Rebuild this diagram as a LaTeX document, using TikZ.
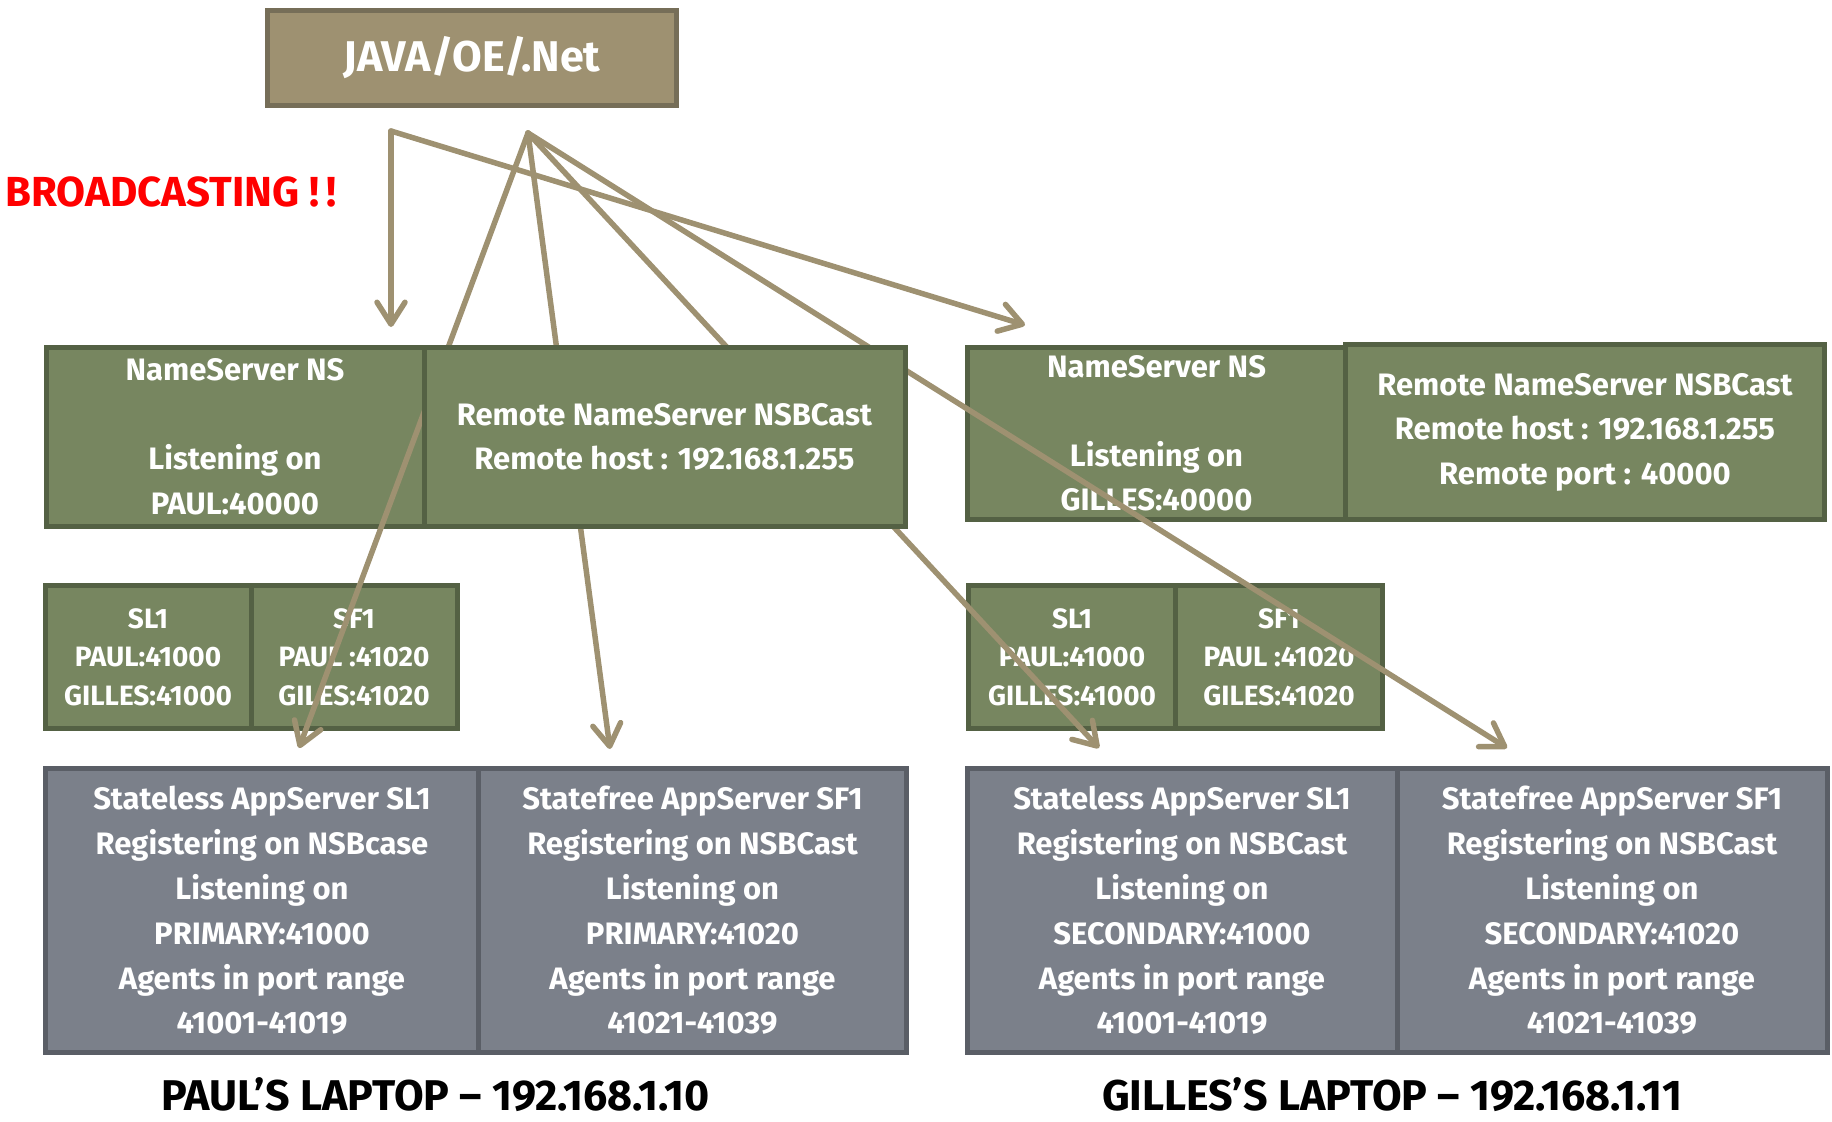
\documentclass[tikz,border=0pt]{standalone}
\usepackage{fontspec}
\setmainfont{Fira Sans}
\usepackage{tikz}
\usetikzlibrary{arrows.meta, positioning}

\definecolor{tan}{HTML}{9E9171}
\definecolor{tanline}{HTML}{766E58}
\definecolor{moss}{HTML}{778660}
\definecolor{mossline}{HTML}{546144}
\definecolor{slate}{HTML}{7B808A}
\definecolor{slateline}{HTML}{5A5E66}

\tikzstyle{client} = [rectangle, draw=tanline, fill=tan, line width=5pt, minimum width=409pt, minimum height=95pt, text=white, font=\bfseries\fontsize{43}{50}\selectfont]
\tikzstyle{nscell} = [rectangle, draw=mossline, fill=moss, line width=5pt, minimum height=179pt, text=white, align=center, font=\bfseries\fontsize{31}{44.5}\selectfont]
\tikzstyle{portcell} = [rectangle, draw=mossline, fill=moss, line width=5pt, minimum width=206pt, minimum height=143pt, text=white, align=center, font=\bfseries\fontsize{28}{38.5}\selectfont]
\tikzstyle{appcell} = [rectangle, draw=slateline, fill=slate, line width=5pt, minimum width=430pt, minimum height=284pt, text=white, align=center, font=\bfseries\fontsize{31}{44.8}\selectfont]
\tikzstyle{laptop} = [anchor=base, inner sep=0pt, font=\bfseries\fontsize{43}{50}\selectfont]
\tikzstyle{arrow} = [line width=5.5pt, draw=tan, line cap=round, -{Straight Barb[round, length=22pt, width=28pt]}]

\begin{document}
\begin{tikzpicture}[x=1pt, y=-1pt]
    \useasboundingbox (0,0) rectangle (1832,1122);

    % Client
    \node[client] (java) at (472,58) {JAVA/OE/.Net};
    \node[text=red, font=\bfseries\fontsize{42}{50}\selectfont] (bcast) at (171,192) {BROADCASTING {!}\,{!}};

    % Paul's laptop
    \node[nscell, minimum width=378pt] (paulns) at (235,437) {NameServer NS\\[44.5pt]Listening on\\PAUL:40000};
    \node[portcell] (paulsl) at (148,657) {SL1\\PAUL:41000\\GILLES:41000};
    \node[portcell, right=-5pt of paulsl] (paulsf) {SF1\\PAUL :41020\\GILES:41020};
    \node[appcell, minimum width=433pt] (paulapl) at (262,910.5) {Stateless AppServer SL1\\Registering on NSBcase\\Listening on\\PRIMARY:41000\\Agents in port range\\41001-41019};
    \node[appcell, minimum width=428pt, right=-5pt of paulapl] (paulapf) {Statefree AppServer SF1\\Registering on NSBCast\\Listening on\\PRIMARY:41020\\Agents in port range\\41021-41039};
    \node[laptop] (paullaptop) at (435.5,1110) {PAUL’S LAPTOP -- 192.168.1.10};

    % Gilles's laptop
    \node[nscell, minimum width=378pt, minimum height=172pt] (gillesns) at (1156.5,433.5) {NameServer NS\\[44.5pt]Listening on\\GILLES:40000};
    \node[nscell, minimum width=479pt, minimum height=175pt, anchor=south west] (gillesremote) at ([xshift=-5pt]gillesns.south east) {Remote NameServer NSBCast\\Remote host : 192.168.1.255\\Remote port : 40000};
    \node[portcell, minimum width=207pt] (gillessl) at (1072,657) {SL1\\PAUL:41000\\GILLES:41000};
    \node[portcell, minimum width=207pt, right=-5pt of gillessl] (gillessf) {SF1\\PAUL :41020\\GILES:41020};
    \node[appcell] (gillesapl) at (1182,910.5) {Stateless AppServer SL1\\Registering on NSBCast\\Listening on\\SECONDARY:41000\\Agents in port range\\41001-41019};
    \node[appcell, right=-5pt of gillesapl] (gillesapf) {Statefree AppServer SF1\\Registering on NSBCast\\Listening on\\SECONDARY:41020\\Agents in port range\\41021-41039};
    \node[laptop] (gilleslaptop) at (1392,1110) {GILLES’S LAPTOP -- 192.168.1.11};

    % Broadcast fan
    \coordinate (fanA) at (391,131);
    \coordinate (fanB) at (528,133);
    \coordinate (tipns) at (391,327);
    \coordinate (tipgns) at (1025,325);
    \coordinate (tippsl) at (299,748);
    \coordinate (tippsf) at (610,749);
    \coordinate (tipgsl) at (1099,748);
    \coordinate (tipgsf) at (1507,748);

    \draw[arrow] (fanA) -- (tipns);
    \draw[arrow] (fanA) -- (tipgns);
    \draw[arrow] (fanB) -- (tippsl);
    \draw[arrow] (fanB) -- (tippsf);
    \draw[arrow] (fanB) -- (tipgsl);
    \draw[arrow] (fanB) -- (tipgsf);

    % on top of the fan, the lines pass behind it
    \node[nscell, minimum width=481pt, right=-5pt of paulns] (paulremote) {Remote NameServer NSBCast\\Remote host : 192.168.1.255};

\end{tikzpicture}
\end{document}
